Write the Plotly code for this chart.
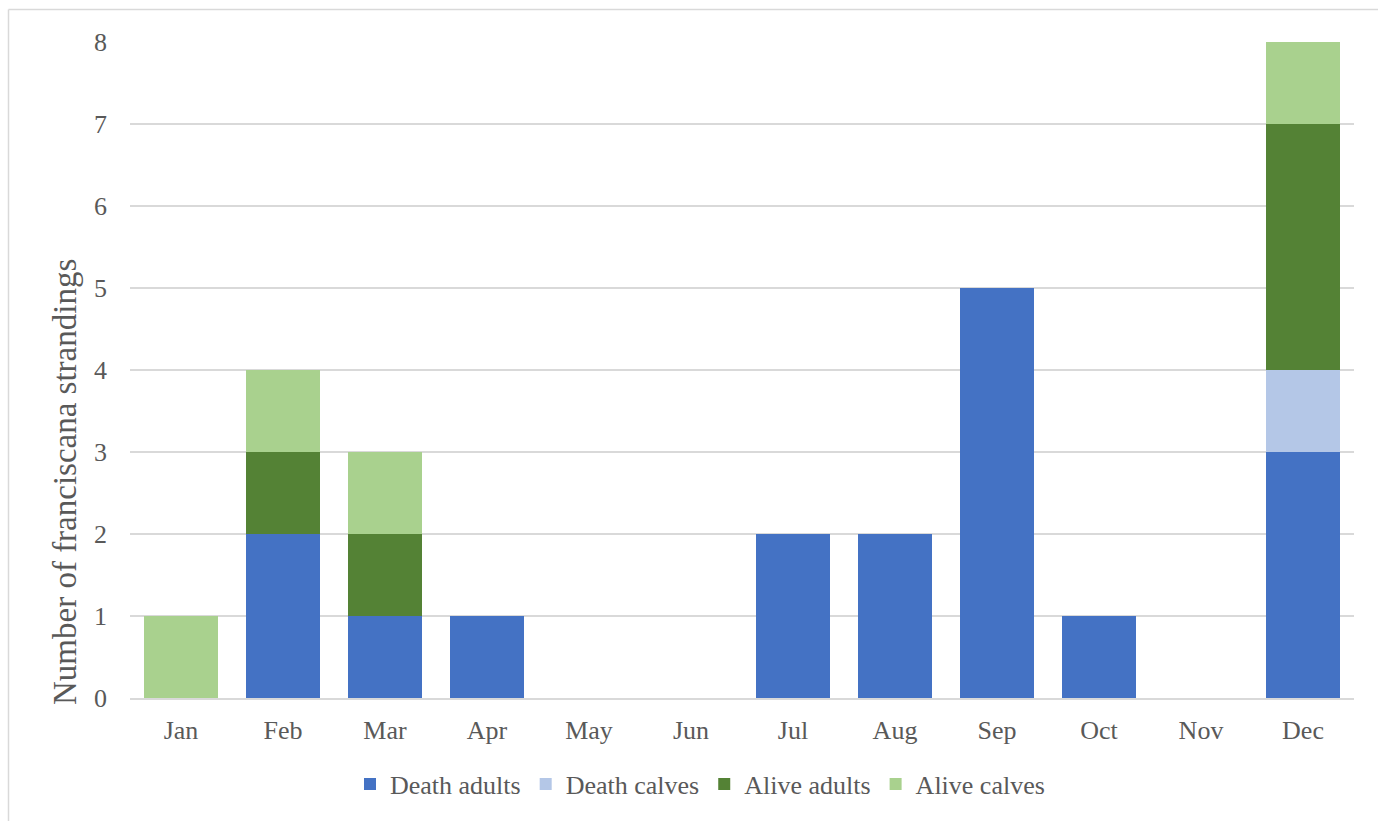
import plotly.graph_objects as go

months = ["Jan", "Feb", "Mar", "Apr", "May", "Jun", "Jul", "Aug", "Sep", "Oct", "Nov", "Dec"]
death_adults = [0, 2, 1, 1, 0, 0, 2, 2, 5, 1, 0, 3]
death_calves = [0, 0, 0, 0, 0, 0, 0, 0, 0, 0, 0, 1]
alive_adults = [0, 1, 1, 0, 0, 0, 0, 0, 0, 0, 0, 3]
alive_calves = [1, 1, 1, 0, 0, 0, 0, 0, 0, 0, 0, 1]
y_ticks = [0, 1, 2, 3, 4, 5, 6, 7, 8]
y_title = "Number of franciscana strandings"

series = [
    ("Death adults", death_adults, "#4472C4"),
    ("Death calves", death_calves, "#B4C7E7"),
    ("Alive adults", alive_adults, "#548235"),
    ("Alive calves", alive_calves, "#A9D18E"),
]

FONT = "Liberation Serif, Times New Roman, serif"
TXT = "#595959"

fig = go.Figure()
for name, vals, col in series:
    fig.add_trace(go.Bar(x=months, y=vals, name=name, marker=dict(color=col, line=dict(width=0))))

W, H = 1378, 821
L, R, T, B = 130, 24, 42, 123
pw, ph = W - L - R, H - T - B

def px_x(px):
    return (px - L) / pw

def px_y(py):
    return (H - B - py) / ph

fig.update_layout(
    width=W, height=H,
    margin=dict(l=L, r=R, t=T, b=B),
    barmode="stack",
    bargap=0.275,
    plot_bgcolor="white",
    paper_bgcolor="white",
    font=dict(family=FONT, color=TXT, size=26),
    showlegend=True,
    legend=dict(
        orientation="h", x=px_x(700), xanchor="center", y=px_y(784), yanchor="middle",
        font=dict(family=FONT, color=TXT, size=26),
        traceorder="normal", itemclick=False, itemdoubleclick=False,
    ),
    xaxis=dict(
        range=[-0.5, 11.5],
        showgrid=False, showline=True, linecolor="#D9D9D9", linewidth=1.5,
        ticks="", tickfont=dict(size=26, color=TXT, family=FONT),
        ticklabelstandoff=8,
        fixedrange=True,
    ),
    yaxis=dict(
        range=[0, 8],
        tickvals=y_ticks,
        showgrid=True, gridcolor="#D9D9D9", gridwidth=1.5,
        zeroline=False, showline=False, ticks="",
        tickfont=dict(size=26, color=TXT, family=FONT),
        ticklabelstandoff=22,
        fixedrange=True,
    ),
    annotations=[
        dict(text=y_title, xref="paper", yref="paper", x=px_x(65), y=px_y(482),
             xanchor="center", yanchor="middle", textangle=-90, showarrow=False,
             font=dict(size=33, color=TXT, family=FONT)),
    ],
    shapes=[
        dict(type="line", xref="paper", yref="paper", x0=px_x(8.5), x1=px_x(8.5), y0=px_y(9.5), y1=px_y(830),
             line=dict(color="#D9D9D9", width=1.5)),
        dict(type="line", xref="paper", yref="paper", x0=px_x(8.5), x1=px_x(1390), y0=px_y(9.5), y1=px_y(9.5),
             line=dict(color="#D9D9D9", width=1.5)),
    ],
)

fig.write_html("out.html")
